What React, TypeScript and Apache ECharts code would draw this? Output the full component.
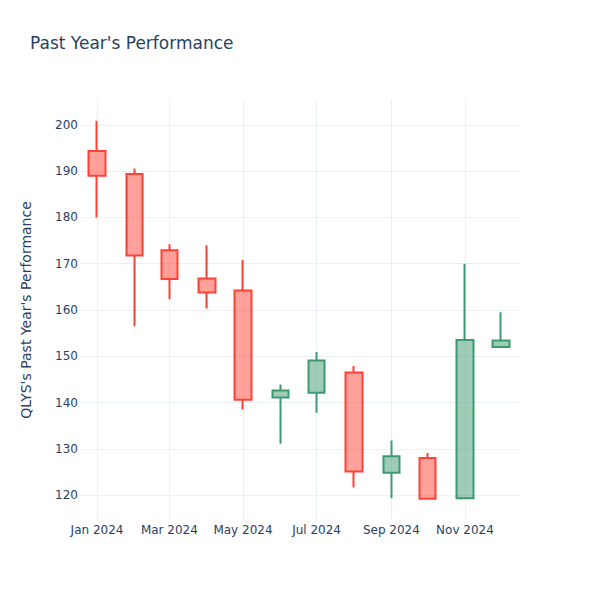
import React, { useEffect, useRef } from "react";
import * as echarts from "echarts";

const dates = [
  "2024-01-01", "2024-02-01", "2024-03-01", "2024-04-01", "2024-05-01", "2024-06-01",
  "2024-07-01", "2024-08-01", "2024-09-01", "2024-10-01", "2024-11-01", "2024-12-01",
];
const opens = [194.4, 189.4, 172.9, 166.8, 164.2, 141.1, 142.1, 146.5, 124.8, 128.0, 119.3, 152.0];
const closes = [189.0, 171.8, 166.7, 163.8, 140.6, 142.6, 149.1, 125.1, 128.4, 119.2, 153.5, 153.4];
const lows = [180.0, 156.5, 162.3, 160.3, 138.5, 131.1, 137.8, 121.6, 119.3, 119.1, 119.3, 151.9];
const highs = [200.9, 190.6, 174.2, 174.0, 170.8, 143.9, 150.9, 147.9, 131.8, 129.1, 170.0, 159.5];

const yTicks = [120, 130, 140, 150, 160, 170, 180, 190, 200];
const xTickDates = ["2024-01-01", "2024-03-01", "2024-05-01", "2024-07-01", "2024-09-01", "2024-11-01"];
const monthNames = ["Jan", "Feb", "Mar", "Apr", "May", "Jun", "Jul", "Aug", "Sep", "Oct", "Nov", "Dec"];

const FONT = "DejaVu Sans";
const TEXT = "#2a3f5f";
const GRID = "#EBF0F8";

export default function App() {
  const ref = useRef<HTMLDivElement>(null);
  useEffect(() => {
    if (!ref.current) return;
    const chart = echarts.init(ref.current, undefined, { renderer: "svg" });
    const ts = (d: string) => new Date(d + "T00:00:00Z").getTime();
    const data = dates.map((d, i) => [ts(d), opens[i], closes[i], lows[i], highs[i]]);
    chart.setOption({
      animation: false,
      backgroundColor: "#fff",
      textStyle: { fontFamily: FONT },
      title: {
        text: "Past Year's Performance",
        left: 25,
        top: 29,
        textStyle: { fontFamily: FONT, fontSize: 17, fontWeight: "normal", color: TEXT },
      },
      grid: { left: 80, right: 80, top: 100, bottom: 80 },
      xAxis: {
        type: "value",
        min: ts("2023-12-17") + 0.9 * 86400000,
        max: ts("2024-12-16") + 0.6 * 86400000,
        axisLine: { show: false },
        axisTick: { show: false, customValues: xTickDates.map(ts) },
        axisLabel: {
          customValues: xTickDates.map(ts),
          margin: 4,
          color: TEXT,
          fontSize: 12,
          fontFamily: FONT,
          formatter: (v: number) => {
            const d = new Date(v);
            return monthNames[d.getUTCMonth()] + " " + d.getUTCFullYear();
          },
        },
        splitLine: { show: true, lineStyle: { color: GRID, width: 1 } },
      },
      yAxis: {
        type: "value",
        min: 114.6,
        max: 205.4,
        name: "QLYS's Past Year's Performance",
        nameLocation: "middle",
        nameGap: 47,
        nameTextStyle: { fontFamily: FONT, fontSize: 14, color: TEXT },
        axisLine: { show: false },
        axisTick: { show: false, customValues: yTicks },
        axisLabel: {
          customValues: yTicks,
          margin: 2,
          color: TEXT,
          fontSize: 12,
          fontFamily: FONT,
        },
        splitLine: { show: true, lineStyle: { color: GRID, width: 1 } },
      },
      series: [
        {
          type: "candlestick",
          data,
          encode: { x: 0, y: [1, 2, 3, 4] },
          barWidth: 17,
          itemStyle: {
            color: "rgba(61,153,112,0.5)",
            color0: "rgba(255,65,54,0.5)",
            borderColor: "#3D9970",
            borderColor0: "#FF4136",
            borderWidth: 2,
          },
        },
      ],
    });
    return () => chart.dispose();
  }, []);
  return (
    <div
      ref={ref}
      style={{ position: "fixed", left: 0, top: 0, width: 600, height: 600 }}
    />
  );
}
